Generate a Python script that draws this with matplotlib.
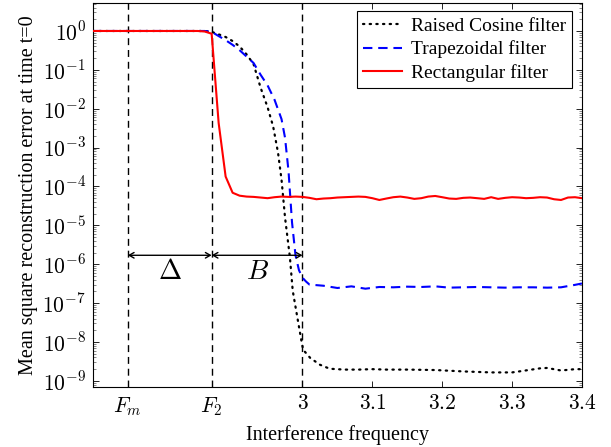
import numpy as np
import matplotlib
matplotlib.use("Agg")
from matplotlib import pyplot as plt
from matplotlib.ticker import LogLocator, NullFormatter

plt.rcParams['font.family'] = ['Liberation Serif', 'DejaVu Serif']
plt.rcParams['mathtext.fontset'] = 'cm'

# marcas do eixo x
Fm = 2.75
F2 = 2.87
xtickVals = [Fm, F2, 3.0, 3.1, 3.2, 3.3, 3.4]
xtickLabels = ['$F_m$', '$F_2$', '$3$', '$3.1$', '$3.2$', '$3.3$', '$3.4$']

# Raised Cosine filter
xCos = [2.70, 2.75, 2.80, 2.85, 2.86, 2.87, 2.88, 2.89, 2.90, 2.91, 2.92, 2.93, 2.94,
        2.95, 2.958, 2.965, 2.97, 2.975, 2.982, 2.986, 2.994, 2.999, 3.001, 3.011,
        3.025, 3.039, 3.06, 3.08, 3.10, 3.12, 3.15, 3.19, 3.23, 3.27, 3.30, 3.31,
        3.34, 3.35, 3.37, 3.39, 3.40]
yCos = [1.0, 1.0, 1.0, 1.0, 1.0, 0.95, 0.82, 0.70, 0.55, 0.40, 0.25, 0.14, 0.035,
        0.011, 3.5e-3, 7.4e-4, 1.5e-4, 1.6e-5, 1.5e-6, 2.1e-7, 3.1e-8, 9.5e-9, 6.3e-9, 3.9e-9,
        2.6e-9, 2.05e-9, 1.95e-9, 1.95e-9, 2.0e-9, 1.95e-9, 1.95e-9, 1.9e-9, 1.75e-9, 1.65e-9,
        1.65e-9, 1.75e-9, 2.1e-9, 2.15e-9, 1.85e-9, 2.0e-9, 2.0e-9]

# Trapezoidal filter
xTrap = [2.70, 2.75, 2.80, 2.85, 2.86, 2.87, 2.88, 2.89, 2.90, 2.91, 2.92, 2.93, 2.94,
         2.95, 2.96, 2.97, 2.975, 2.98, 2.985, 2.99, 2.995, 3.00, 3.005, 3.01, 3.03,
         3.05, 3.07, 3.09, 3.11, 3.13, 3.15, 3.17, 3.19, 3.21, 3.23, 3.25, 3.27, 3.29,
         3.31, 3.33, 3.35, 3.37, 3.39, 3.40]
yTrap = [1.0, 1.0, 1.0, 1.0, 1.0, 0.95, 0.74, 0.58, 0.44, 0.32, 0.22, 0.15, 0.075,
         0.040, 0.017, 5.4e-3, 1.8e-3, 2.5e-4, 1.2e-5, 1.7e-6, 7e-7, 4.5e-7, 3.6e-7, 3.0e-7, 2.8e-7,
         2.45e-7, 2.7e-7, 2.35e-7, 2.6e-7, 2.55e-7, 2.65e-7, 2.6e-7, 2.7e-7, 2.5e-7, 2.55e-7,
         2.6e-7, 2.55e-7, 2.5e-7, 2.55e-7, 2.55e-7, 2.5e-7, 2.55e-7, 2.95e-7, 3.2e-7]

# Rectangular filter
xRet = np.round(np.arange(2.70, 3.405, 0.01), 2)
yRet = [1.0, 1.0, 1.0, 1.0, 1.0, 1.0, 1.0, 1.0, 1.0, 1.0, 1.0, 1.0, 1.0, 1.0, 1.0, 1.0,
        0.97, 0.85, 4.3e-3, 1.8e-4, 6.9e-5, 5.8e-5, 5.5e-5, 5.4e-5, 5.2e-5, 5.0e-5,
        5.3e-5, 5.5e-5, 5.4e-5, 5.5e-5, 5.4e-5, 5.1e-5, 4.7e-5, 4.9e-5, 5.0e-5, 5.2e-5,
        5.3e-5, 5.4e-5, 5.5e-5, 5.4e-5, 5.0e-5, 4.5e-5, 4.9e-5, 5.3e-5, 5.5e-5, 5.2e-5,
        4.8e-5, 5.0e-5, 5.5e-5, 5.7e-5, 5.3e-5, 4.9e-5, 4.8e-5, 5.1e-5, 5.2e-5, 5.0e-5,
        4.8e-5, 5.3e-5, 4.8e-5, 5.1e-5, 5.3e-5, 5.2e-5, 5.0e-5, 5.1e-5, 5.3e-5, 5.2e-5,
        4.7e-5, 4.5e-5, 5.2e-5, 5.3e-5, 5.0e-5]

# seta Delta / B
yArrow = 1.7e-6
yTexto = 6e-7

fig = plt.figure(figsize=(6.11, 4.47), dpi=100)
ax = fig.add_axes([0.152, 0.135, 0.8005, 0.8576])

for xv in [Fm, F2, 3.0]:
    ax.axvline(xv, color='black', lw=1.0, ls=(0, (5, 3.5)), zorder=1)

ax.plot(xCos, yCos, color='black', lw=1.6, ls=(0, (0.6, 2.4)), dash_capstyle='round',
        label='Raised Cosine filter', zorder=3)
ax.plot(xTrap, yTrap, color='blue', lw=1.5, ls=(0, (4.5, 2.8)), label='Trapezoidal filter', zorder=3)
ax.plot(xRet, yRet, color='red', lw=1.5, label='Rectangular filter', zorder=4)

estiloSeta = dict(arrowstyle='<->,head_length=0.35,head_width=0.2', color='black', lw=1.0,
                  shrinkA=0, shrinkB=0)
ax.annotate('', xy=(Fm, yArrow), xytext=(F2, yArrow), arrowprops=estiloSeta, zorder=5)
ax.annotate('', xy=(F2, yArrow), xytext=(3.0, yArrow), arrowprops=estiloSeta, zorder=5)
ax.text((Fm + F2) / 2, yTexto, r'$\Delta$', fontsize=20, ha='center', va='center')
ax.text((F2 + 3.0) / 2, yTexto, r'$B$', fontsize=20, ha='center', va='center')

ax.set_yscale('log')
ax.set_xlim(2.70, 3.40)
ax.set_ylim(7.1e-10, 5.15)

ax.set_xticks(xtickVals)
ax.set_xticklabels(xtickLabels)
ytickVals = [10.0 ** (-k) for k in range(0, 10)]
ax.set_yticks(ytickVals)
ax.set_yticklabels(['$10^{%d}$' % (-k) if k else '$10^{0}$' for k in range(0, 10)])
ax.yaxis.set_minor_locator(LogLocator(base=10, subs=np.arange(2, 10), numticks=20))
ax.yaxis.set_minor_formatter(NullFormatter())
ax.tick_params(axis='both', which='major', direction='in', top=True, right=True,
               length=4.5, width=0.6, labelsize=15.5, pad=5)
ax.tick_params(axis='x', which='major', pad=6)
ax.tick_params(axis='y', which='minor', direction='in', left=True, right=True,
               length=2.5, width=0.5, color='0.35')
ax.tick_params(axis='x', which='minor', bottom=False, top=False)
for s in ax.spines.values():
    s.set_linewidth(0.8)

ax.set_xlabel('Interference frequency', fontsize=14.5, labelpad=5)
ax.set_ylabel('Mean square reconstruction error at time t=0', fontsize=14.5, labelpad=3)

leg = ax.legend(loc='upper right', bbox_to_anchor=(1 - 10 / 489, 1 - 8 / 383.4), borderaxespad=0,
                fontsize=14, fancybox=False, framealpha=1, edgecolor='black',
                handlelength=2.0, handletextpad=0.45, labelspacing=0.28, borderpad=0.32)
leg.get_frame().set_linewidth(0.8)

fig.savefig('out.png', dpi=100)
